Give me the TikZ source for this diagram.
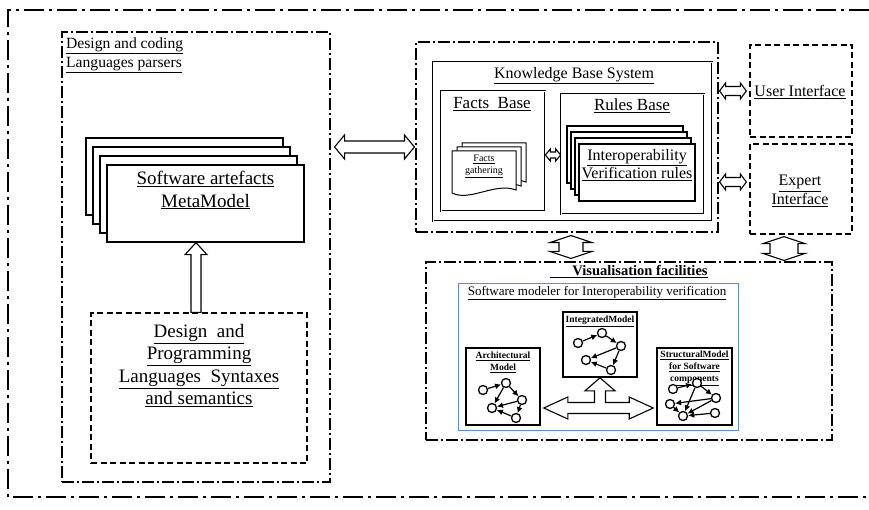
\documentclass[tikz,border=0pt]{standalone}
\usepackage{fontspec}
\setmainfont{Liberation Serif}
\usetikzlibrary{calc,shadows,arrows.meta}

\definecolor{modblue}{RGB}{95,140,215}

% hollow block arrows: from, to, shaft half width, head half width, head length
\newcommand{\harrow}[5]{%
  \draw[blockarrow] let \p1=(#1), \p2=(#2) in
    (\x1,\y1) -- (\x1+#5,\y1+#4) -- (\x1+#5,\y1+#3) -- (\x2-#5,\y1+#3)
    -- (\x2-#5,\y1+#4) -- (\x2,\y1) -- (\x2-#5,\y1-#4) -- (\x2-#5,\y1-#3)
    -- (\x1+#5,\y1-#3) -- (\x1+#5,\y1-#4) -- cycle;}
\newcommand{\varrow}[5]{%
  \draw[blockarrow] let \p1=(#1), \p2=(#2) in
    (\x1,\y1) -- (\x1+#4,\y1-#5) -- (\x1+#3,\y1-#5) -- (\x1+#3,\y2+#5)
    -- (\x1+#4,\y2+#5) -- (\x1,\y2) -- (\x1-#4,\y2+#5) -- (\x1-#3,\y2+#5)
    -- (\x1-#3,\y1-#5) -- (\x1-#4,\y1-#5) -- cycle;}
\newcommand{\uarrow}[5]{%
  \draw[blockarrow] let \p1=(#1), \p2=(#2) in
    (\x1-#3,\y1) -- (\x1-#3,\y2-#5) -- (\x1-#4,\y2-#5) -- (\x1,\y2)
    -- (\x1+#4,\y2-#5) -- (\x1+#3,\y2-#5) -- (\x1+#3,\y1) -- cycle;}

\begin{document}
\begin{tikzpicture}[x=1pt,y=-1pt,
    outerline/.style={dash pattern=on 20pt off 5pt on 3pt off 5pt, line width=2.2pt},
    dashdot/.style={draw, dash pattern=on 12pt off 3pt on 2pt off 3pt, line width=1.1pt},
    dashbox/.style={draw, dash pattern=on 6pt off 3.5pt, line width=1.3pt},
    sheet/.style={draw, fill=white, line width=1.3pt},
    metastack/.style={copy shadow={shadow xshift=-21pt,shadow yshift=27pt},
      copy shadow={shadow xshift=-14pt,shadow yshift=18pt},
      copy shadow={shadow xshift=-7pt,shadow yshift=9pt}},
    rulestack/.style={copy shadow={shadow xshift=-12pt,shadow yshift=18pt},
      copy shadow={shadow xshift=-8pt,shadow yshift=12pt},
      copy shadow={shadow xshift=-4pt,shadow yshift=6pt}},
    kbline/.style={draw, double, double distance=0.8pt, line width=0.7pt},
    blockarrow/.style={draw, fill=white, line width=1.1pt},
    modelbox/.style={draw, fill=white, line width=1.6pt},
    graphdot/.style={circle, draw, fill=white, inner sep=0pt, minimum size=9pt, line width=1.3pt},
    link/.style={-{Latex[length=6pt,width=6pt]}, line width=1.2pt},
    bigtxt/.style={font=\fontsize{19}{22.5}\selectfont, align=center, inner sep=0pt},
    midtxt/.style={font=\fontsize{16}{18.5}\selectfont, align=center, inner sep=0pt},
    basetxt/.style={font=\fontsize{17}{20}\selectfont, align=center, inner sep=0pt},
    smalltxt/.style={font=\fontsize{10}{12}\selectfont, align=center, inner sep=0pt},
    tinytxt/.style={font=\bfseries\fontsize{9.5}{12}\selectfont, align=center, inner sep=0pt}]

\useasboundingbox (0,0) rectangle (869,510);

% frame round the whole system
\draw[outerline] (869,10) -- (8,10) -- (8,497) -- (869,497);

% parsers
\node[dashdot, minimum width=268pt, minimum height=450pt] (design) at (196,257) {};
\node[font=\fontsize{15.6}{19}\selectfont, align=left, inner sep=0pt, anchor=north west]
  (designtitle) at (66,37) {\underline{Design and coding}\\\underline{Languages parsers}};
\node[sheet, metastack, minimum width=197pt, minimum height=77pt] (meta) at (205.5,203.5) {};
\node[bigtxt, anchor=north] (metatext) at (meta.north |- 0,171)
  {\underline{Software artefacts}\\\underline{MetaModel}};
\node[dashbox, minimum width=216pt, minimum height=150pt] (syntax) at (199,388) {};
\node[bigtxt, anchor=north] (syntaxtext) at (syntax.north |- 0,324)
  {\underline{Design\ \ and}\\\underline{Programming}\\\underline{Languages\ \ Syntaxes}\\\underline{and semantics}};
\uarrow{196,0 |- syntax.north}{196,0 |- meta.south}{5pt}{11pt}{12pt}

% knowledge base
\node[dashdot, minimum width=302pt, minimum height=190pt] (kbframe) at (567,137) {};
\node[kbline, minimum width=279pt, minimum height=159pt] (kb) at (572.5,141.5) {};
\node[midtxt, anchor=north] (kbtitle) at (574,67) {\underline{Knowledge Base System}};
\node[kbline, minimum width=104pt, minimum height=120pt] (facts) at (493,151) {};
\node[basetxt, anchor=north] (factstitle) at (492,97) {\underline{Facts\ \ Base}};
\foreach \dx/\dy in {10/-8, 5/-4, 0/0}
  \draw[sheet, line width=1pt, shift={(\dx,\dy)}] (452,151) -- (516,151) -- (516,190)
    .. controls (495,182) and (470,202) .. (452,193) -- cycle;
\node[smalltxt, anchor=north] (gather) at (484,155) {\underline{Facts}\\\underline{gathering}};
\node[kbline, minimum width=143pt, minimum height=120pt] (rules) at (632.5,154) {};
\node[basetxt, anchor=north] (rulestitle) at (632,99) {\underline{Rules Base}};
\node[sheet, rulestack, minimum width=116pt, minimum height=57pt] (rulepage) at (637,172.5) {};
\node[midtxt, anchor=north] (ruletext) at (637,149)
  {\underline{Interoperability}\\\underline{Verification rules}};
\harrow{facts.east |- 0,155}{rules.west |- 0,155}{3pt}{6pt}{5pt}

% interfaces
\node[dashbox, minimum width=102pt, minimum height=92pt] (user) at (801,91) {};
\node[midtxt] (usertext) at (800,92) {\underline{User Interface}};
\node[dashbox, minimum width=102pt, minimum height=90pt] (expert) at (801,189) {};
\node[midtxt] (experttext) at (800,191) {\underline{Expert}\\\underline{Interface}};

\harrow{$(design.east |- 0,147)+(4,0)$}{$(kbframe.west |- 0,147)+(-1,0)$}{6pt}{12pt}{10pt}
\harrow{$(kbframe.east |- user)+(1,0)$}{$(user.west)+(-3,0)$}{4.5pt}{8pt}{6pt}
\harrow{$(kbframe.east |- 0,182)+(1,0)$}{$(expert.west |- 0,182)+(-3,0)$}{4.5pt}{8pt}{6pt}

% visualisation
\node[dashdot, minimum width=406pt, minimum height=178pt] (vis) at (629,351) {};
\node[font=\bfseries\fontsize{14.5}{17}\selectfont, inner sep=0pt, anchor=north]
  (vistitle) at (629,265) {\underline{\hspace{22pt}Visualisation facilities}};
\varrow{$(571,0 |- kbframe.south)+(0,3)$}{$(571,0 |- vis.north)+(0,-3)$}{12pt}{21pt}{7pt}
\varrow{$(784,0 |- expert.south)+(0,2)$}{$(784,0 |- vis.north)+(0,-1)$}{14pt}{21pt}{7pt}

\node[draw=modblue, line width=1pt, minimum width=280pt, minimum height=146pt] (modeler) at (598,357) {};
\node[font=\fontsize{13}{15}\selectfont, inner sep=0pt, anchor=north] (modelertitle) at (597,286)
  {\underline{Software modeler for Interoperability verification}};

\node[modelbox, minimum width=74pt, minimum height=65pt] (integ) at (600,344.5) {};
\node[tinytxt, anchor=north] (integtitle) at (integ.north |- 0,316) {\underline{IntegratedModel}};
\node[modelbox, minimum width=74pt, minimum height=77pt] (arch) at (503,386.5) {};
\node[tinytxt, anchor=north] (archtitle) at (arch.north |- 0,352) {\underline{Architectural}\\\underline{Model}};
\node[modelbox, minimum width=75pt, minimum height=77pt] (struct) at (694.5,386.5) {};
\node[tinytxt, anchor=north] (structtitle) at (struct.north |- 0,351)
  {\underline{StructuralModel}\\\underline{for Software}\\\underline{components}};

% small graphs
\node[graphdot] (i1) at (578,343) {};
\node[graphdot] (i2) at (602,333) {};
\node[graphdot] (i3) at (621,346) {};
\node[graphdot] (i4) at (586,360) {};
\node[graphdot] (i5) at (611,370) {};
\draw[link] (i1) -- (i2);
\draw[link] (i2) -- (i3);
\draw[link] (i3) -- (i4);
\draw[link] (i3) -- (i5);
\draw[link] (i5) -- (i4);

\node[graphdot] (a1) at (483,390) {};
\node[graphdot] (a2) at (506,383) {};
\node[graphdot] (a3) at (522,400) {};
\node[graphdot] (a4) at (492,408) {};
\node[graphdot] (a5) at (516,418) {};
\draw[link] (a1) -- (a2);
\draw[link] (a2) -- (a3);
\draw[link] (a2) -- (a4);
\draw[link] (a3) -- (a4);
\draw[link] (a3) -- (a5);
\draw[link] (a5) -- (a4);

\node[graphdot] (s1) at (673,389) {};
\node[graphdot] (s2) at (697,383) {};
\node[graphdot] (s3) at (716,398) {};
\node[graphdot] (s4) at (670,404) {};
\node[graphdot] (s5) at (683,416) {};
\node[graphdot] (s6) at (715,413) {};
\draw[link] (s1) -- (s2);
\draw[link] (s2) -- (s3);
\draw[link] (s2) -- (s5);
\draw[link] (s3) -- (s5);
\draw[link] (s4) -- (s5);
\draw[link] (s6) -- (s5);
\draw[link] (s3) -- (s4);

% three-way arrow between the models
\draw[blockarrow] let \p1=($(arch.east |- 0,408)+(3,0)$), \p2=($(struct.west |- 0,408)+(-3,0)$),
    \p3=(integ.south) in
  (\x1,\y1) -- (\x1+24pt,\y1+11pt) -- (\x1+24pt,\y1+5.5pt) -- (\x3-5.5pt,\y1+5.5pt)
  -- (\x3-5.5pt,\y3-13pt) -- (\x3-15pt,\y3-13pt) -- (\x3,\y3) -- (\x3+15pt,\y3-13pt)
  -- (\x3+5.5pt,\y3-13pt) -- (\x3+5.5pt,\y1+5.5pt) -- (\x2-24pt,\y1+5.5pt)
  -- (\x2-24pt,\y1+11pt) -- (\x2,\y1) -- (\x2-24pt,\y1-11pt) -- (\x2-24pt,\y1-5.5pt)
  -- (\x1+24pt,\y1-5.5pt) -- (\x1+24pt,\y1-11pt) -- cycle;
\end{tikzpicture}
\end{document}
